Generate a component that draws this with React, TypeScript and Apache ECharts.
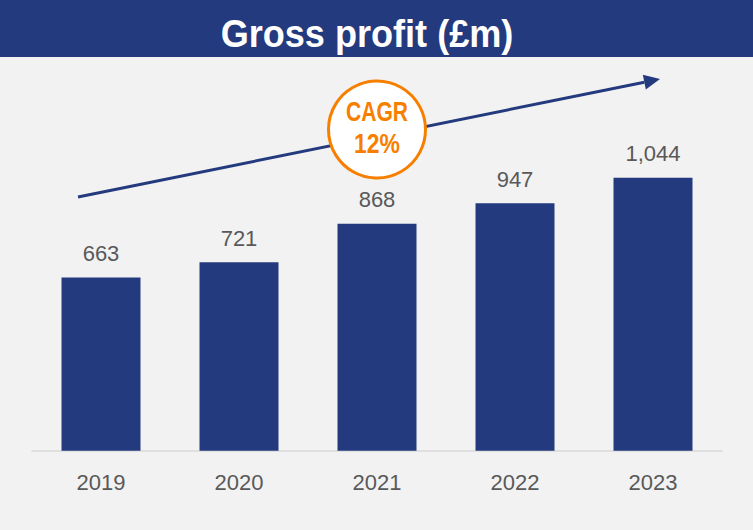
import React, { useEffect, useRef } from "react";
import * as echarts from "echarts";

const categories = ["2019", "2020", "2021", "2022", "2023"];
const grossProfit = [663, 721, 868, 947, 1044];
const titleText = "Gross profit (£m)";
const cagrLabel = "CAGR";
const cagrValue = "12%";

const NAVY = "#243a7e";
const ORANGE = "#f77f00";
const GREY_TEXT = "#595959";
const SANS = "'Liberation Sans', Arial, sans-serif";

export default function App() {
  const ref = useRef<HTMLDivElement>(null);
  useEffect(() => {
    document.body.style.margin = "0";
    if (!ref.current) return;
    const chart = echarts.init(ref.current, undefined, { renderer: "svg" });
    // arrow geometry
    const sx = 78, sy = 197, tx = 660, ty = 79;
    const dx = tx - sx, dy = ty - sy;
    const len = Math.sqrt(dx * dx + dy * dy);
    const ux = dx / len, uy = dy / len;
    const hl = 16, hw = 7.5;
    const bx = tx - ux * hl, by = ty - uy * hl;
    const nx = -uy, ny = ux;
    chart.setOption({
      animation: false,
      backgroundColor: "#f2f2f2",
      grid: { left: 32, right: 31, top: 137, bottom: 79.3 },
      xAxis: {
        type: "category",
        data: categories,
        axisLine: { show: true, lineStyle: { color: "#d9d9d9", width: 1.5 } },
        axisTick: { show: false },
        axisLabel: { color: GREY_TEXT, fontSize: 22, fontFamily: SANS, margin: 21 },
      },
      yAxis: {
        type: "value",
        min: 0,
        max: 1200,
        show: false,
        splitLine: { show: false },
      },
      series: [
        {
          type: "bar",
          data: grossProfit,
          barWidth: 79,
          itemStyle: { color: NAVY },
          label: {
            show: true,
            position: "top",
            distance: 13,
            color: GREY_TEXT,
            fontSize: 22,
            fontFamily: SANS,
            formatter: (p: any) => Number(p.value).toLocaleString("en-US"),
          },
        },
      ],
      graphic: [
        {
          type: "rect",
          shape: { x: 0, y: 0, width: 753, height: 57 },
          style: { fill: NAVY },
          z: 10,
        },
        {
          type: "text",
          x: 367,
          y: 33.5,
          scaleX: 0.95,
          style: {
            text: titleText,
            fill: "#ffffff",
            fontSize: 38,
            fontWeight: "bold",
            fontFamily: SANS,
            align: "center",
            verticalAlign: "middle",
          },
          z: 11,
        },
        {
          type: "line",
          shape: { x1: sx, y1: sy, x2: bx, y2: by },
          style: { stroke: NAVY, lineWidth: 3 },
          z: 10,
        },
        {
          type: "polygon",
          shape: {
            points: [
              [tx, ty],
              [bx + nx * hw, by + ny * hw],
              [bx - nx * hw, by - ny * hw],
            ],
          },
          style: { fill: NAVY },
          z: 10,
        },
        {
          type: "circle",
          shape: { cx: 377, cy: 129.5, r: 48.5 },
          style: { fill: "#ffffff", stroke: ORANGE, lineWidth: 3 },
          z: 12,
        },
        {
          type: "text",
          x: 377,
          y: 111.5,
          scaleX: 0.78,
          style: {
            text: cagrLabel,
            fill: ORANGE,
            fontSize: 27,
            fontWeight: "bold",
            fontFamily: SANS,
            align: "center",
            verticalAlign: "middle",
          },
          z: 13,
        },
        {
          type: "text",
          x: 377,
          y: 143,
          scaleX: 0.85,
          style: {
            text: cagrValue,
            fill: ORANGE,
            fontSize: 27,
            fontWeight: "bold",
            fontFamily: SANS,
            align: "center",
            verticalAlign: "middle",
          },
          z: 13,
        },
      ],
    });
    return () => chart.dispose();
  }, []);
  return <div ref={ref} style={{ width: 753, height: 530 }} />;
}
